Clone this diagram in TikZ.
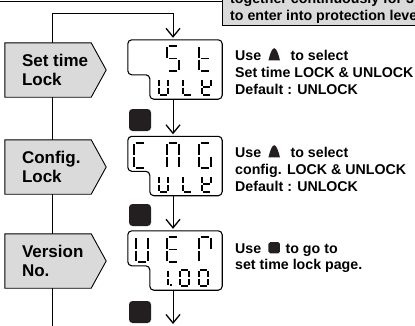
\documentclass[tikz,border=0pt]{standalone}
\usepackage{fontspec}
\setmainfont{Liberation Sans}
\usetikzlibrary{arrows.meta}
\definecolor{panelgray}{HTML}{DADADA}
\definecolor{keyblack}{HTML}{231F20}
\newcommand\SEGa{\draw[seg] (0.14,0) -- (0.86,0);}
\newcommand\SEGb{\draw[seg] (1,0.05) -- (1,0.46);}
\newcommand\SEGc{\draw[seg] (1,0.54) -- (1,0.95);}
\newcommand\SEGd{\draw[seg] (0.14,1) -- (0.86,1);}
\newcommand\SEGe{\draw[seg] (0,0.54) -- (0,0.95);}
\newcommand\SEGf{\draw[seg] (0,0.05) -- (0,0.46);}
\newcommand\SEGg{\draw[seg] (0.14,0.5) -- (0.86,0.5);}
\newcommand\SEGp{\fill (1.22,0.87) rectangle (1.46,1.02);}
\newcommand\segdigit[5]{\begin{scope}[shift={(#1,#2)},xscale=#3,yscale=#4]\foreach \s in {#5}{\csname SEG\s\endcsname}\end{scope}}
\begin{document}
\begin{tikzpicture}[x=1pt,y=-1pt,
  conn/.style={line width=1pt, draw=black},
  arr/.style={conn, -{Straight Barb[length=8.5pt,width=14pt,line width=1.3pt]}},
  panel/.style={draw=black, line width=0.9pt, fill=panelgray},
  dispframe/.style={draw=black, line width=1.1pt, rounded corners=4pt},
  dispslot/.style={rectangle, inner sep=0pt, minimum width=94pt, minimum height=59pt},
  pentslot/.style={rectangle, inner sep=0pt, minimum width=101pt, minimum height=54pt},
  keysq/.style={rectangle, fill=keyblack, rounded corners=3.5pt, inner sep=0pt, minimum size=22pt},
  lbl/.style={font=\fontsize{17}{19}\selectfont\bfseries, align=left, inner sep=0pt, anchor=west},
  desc/.style={font=\fontsize{14.2}{17}\selectfont\bfseries, inner sep=0pt, anchor=base west},
  seg/.style={line width=1.8pt, line cap=butt},
  upkey/.pic={\fill[keyblack] (0,0.3) -- (11.5,0.3) .. controls (10,-6) and (8,-11.8) .. (5.75,-11.8) .. controls (3.5,-11.8) and (1.5,-6) .. (0,0.3) -- cycle;},
  setkey/.pic={\fill[keyblack, rounded corners=1.8pt] (0,0.4) rectangle (11.5,-11);}]
\useasboundingbox (0,0) rectangle (415,325);
\clip (0,0) rectangle (415,325);

% note box at top right
\node[panel, rectangle, anchor=south west, minimum width=210pt, minimum height=45pt, inner sep=0pt] (note) at (222,26) {};
\coordinate (topend) at (0,1);
\draw[conn] (topend) -- (topend -| note.west);
\node[desc] (note1) at (230,3) {together continuously for 3};
\node[desc] (note2) at (230,20.5) {to enter into protection level};

% displays
\node[dispslot] (d1) at (175,69.5) {};
\node[dispslot] (d2) at (175,166) {};
\node[dispslot] (d3) at (175,260.5) {};
\foreach \d in {d1,d2,d3}{
  \draw[dispframe] (\d.north west) -- (\d.north east) -- (\d.south east) -- ([xshift=22pt]\d.south west) |- ([yshift=-35pt]\d.north west) -- cycle;
}

% connectors
\coordinate (ltop) at (52,13);
\coordinate (lbot) at (52,330);
\coordinate (bend) at (173,324);
\draw[arr] (lbot) -- (ltop) -| ([xshift=-2pt,yshift=2pt]d1.north);
\draw[arr] ([xshift=-2pt]d1.south) -- ([xshift=-2pt,yshift=2pt]d2.north);
\draw[arr] ([xshift=-2pt]d2.south) -- ([xshift=-2pt,yshift=2pt]d3.north);
\draw[arr] ([xshift=-2pt]d3.south) -- (bend);

% keys
\node[keysq] (k1) at (140,120) {};
\node[keysq] (k2) at (140,215) {};
\node[keysq] (k3) at (140,312) {};

% pentagons
\node[pentslot] (p1) at (55.5,70) {};
\node[pentslot] (p2) at (55.5,167) {};
\node[pentslot] (p3) at (55.5,261) {};
\foreach \p in {p1,p2,p3}{
  \draw[panel] (\p.north west) -- ([xshift=-15pt]\p.north east) -- (\p.east) -- ([xshift=-15pt]\p.south east) -- (\p.south west) -- cycle;
}
\node[lbl] (p1t) at ([xshift=17pt]p1.west) {Set time\\Lock};
\node[lbl] (p2t) at ([xshift=17pt]p2.west) {Config.\\Lock};
\node[lbl] (p3t) at ([xshift=17pt]p3.west) {Version\\No.};

% display 1 digits
\segdigit{167}{46}{12}{25}{a,f,g,c,d}
\segdigit{199}{46}{12}{25}{f,g,e,d}
\segdigit{159}{79}{9}{16}{b,c,d,e,f}
\segdigit{183}{79}{9}{16}{f,e,d}
\segdigit{202}{79}{9}{16}{b,d,e,f,g}
% display 2 digits
\segdigit{134}{143}{12}{25}{a,f,e,d}
\segdigit{167}{143}{12}{25}{a,b,c,e,f}
\segdigit{199}{143}{12}{25}{a,c,d,e,f}
\segdigit{159}{176}{9}{16}{b,c,d,e,f}
\segdigit{183}{176}{9}{16}{f,e,d}
\segdigit{202}{176}{9}{16}{b,d,e,f,g}
% display 3 digits
\segdigit{136}{237}{12}{25}{b,c,d,e,f}
\segdigit{167}{237}{12}{25}{a,f,g,e,d}
\segdigit{199}{237}{12}{25}{a,b,e,f}
\segdigit{159}{270}{9}{16}{b,c,p}
\segdigit{180}{270}{9}{16}{a,b,c,d,e,f}
\segdigit{199}{270}{9}{16}{a,b,c,d,e,f}

% descriptions
\node[desc] (a1) at (235,60) {Use};
\pic at ([xshift=7pt]a1.base east) {upkey};
\node[desc] (a2) at ([xshift=29pt]a1.base east) {to select};
\node[desc] (a3) at (235,77) {Set time LOCK \& UNLOCK};
\node[desc] (a4) at (235,94) {Default : UNLOCK};

\node[desc] (b1) at (235,157) {Use};
\pic at ([xshift=7pt]b1.base east) {upkey};
\node[desc] (b2) at ([xshift=29pt]b1.base east) {to select};
\node[desc] (b3) at (235,174) {config. LOCK \& UNLOCK};
\node[desc] (b4) at (235,191) {Default : UNLOCK};

\node[desc] (c1) at (235,253) {Use};
\pic at ([xshift=7pt]c1.base east) {setkey};
\node[desc] (c2) at ([xshift=24pt]c1.base east) {to go to};
\node[desc] (c3) at (235,269) {set time lock page.};
\end{tikzpicture}
\end{document}
